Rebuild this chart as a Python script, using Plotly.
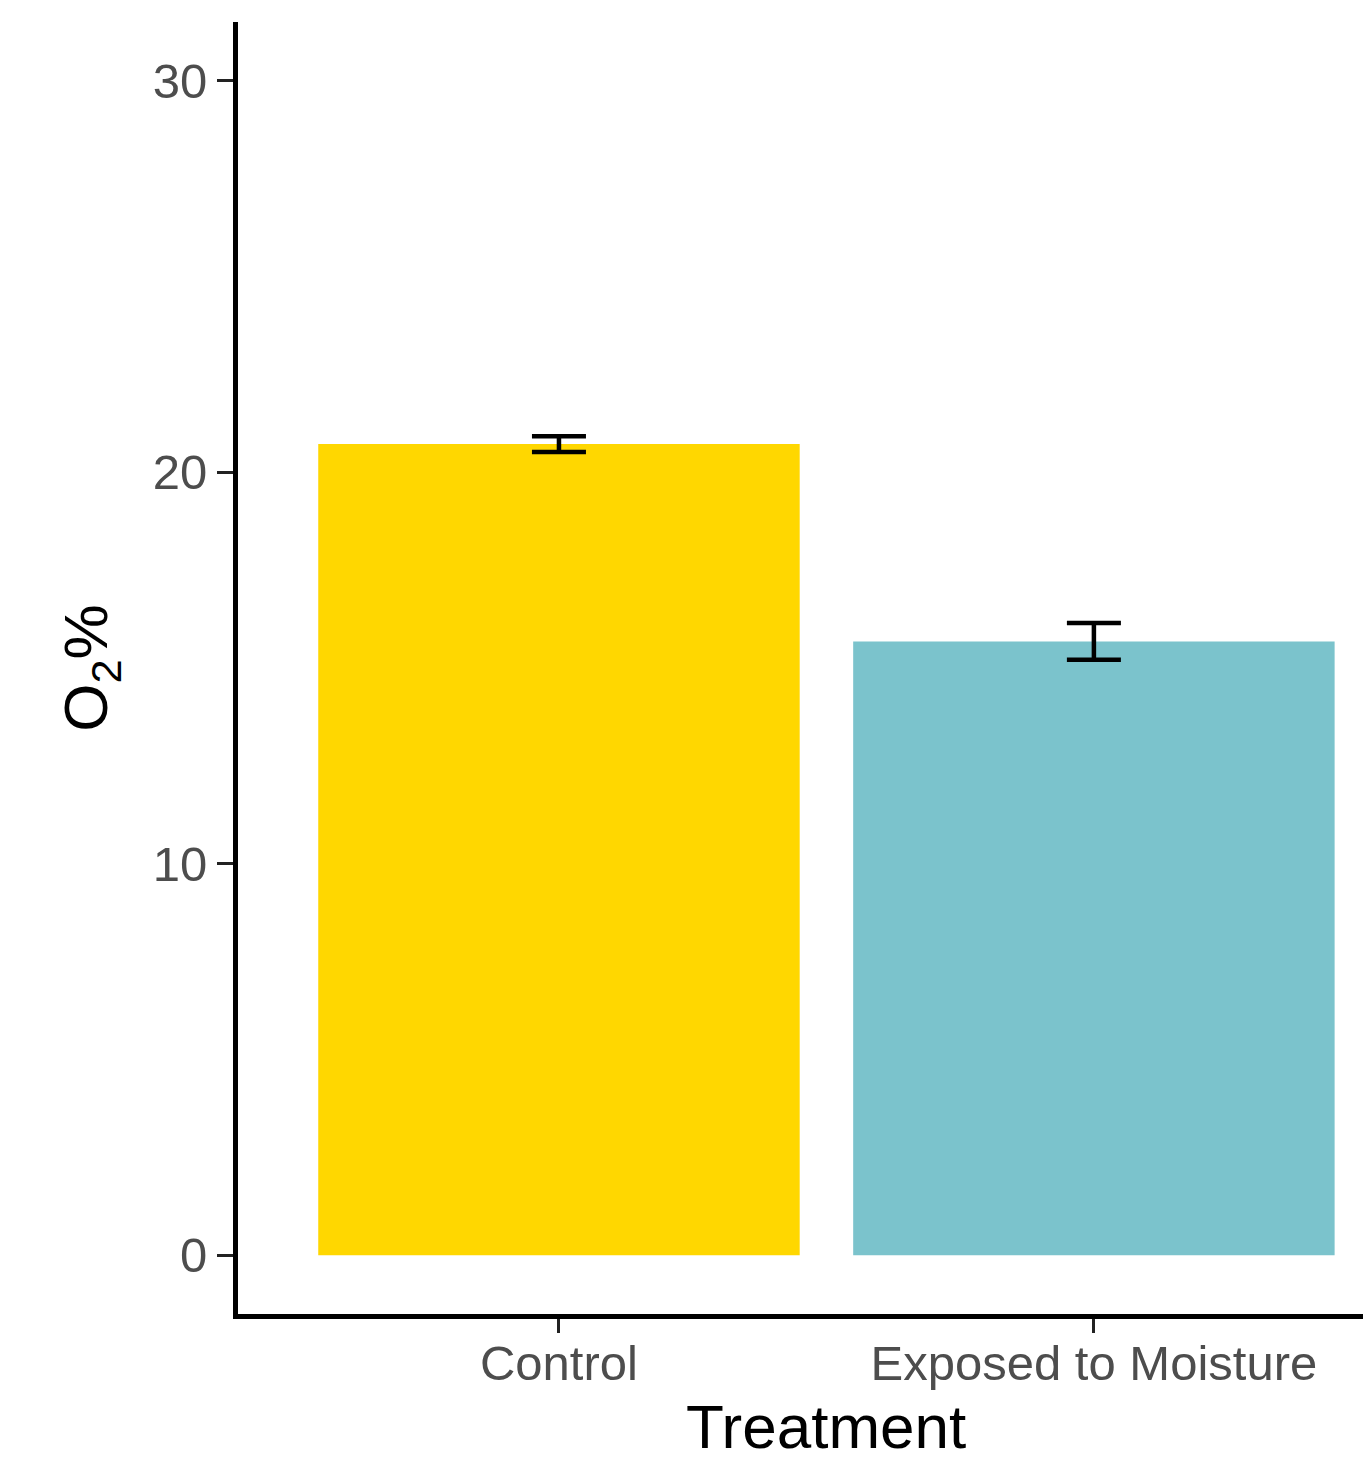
import plotly.graph_objects as go

categories = ["Control", "Exposed to Moisture"]
o2_mean = [20.72, 15.68]
o2_se = [0.2, 0.47]
bar_colors = ["#FFD700", "#7BC3CC"]
y_ticks = [0, 10, 20, 30]

fig = go.Figure()
fig.add_trace(go.Bar(
    x=categories,
    y=o2_mean,
    width=0.9,
    marker=dict(color=bar_colors, line=dict(width=0)),
    error_y=dict(type="data", array=o2_se, visible=True,
                 color="black", thickness=4.5, width=27),
    showlegend=False,
))

# page body has an 8px margin, so the figure is sized/offset to compensate
fig.update_layout(
    width=1363, height=1455,
    margin=dict(l=230, r=0, t=14, b=149),
    paper_bgcolor="white", plot_bgcolor="white",
    font=dict(family="Liberation Sans, Arial, sans-serif"),
    xaxis=dict(
        range=[-0.6, 1.518],
        showline=True, linecolor="black", linewidth=5,
        ticks="outside", ticklen=14, tickwidth=3, tickcolor="#222222",
        ticklabelstandoff=-12,
        tickfont=dict(size=49, color="#4D4D4D"),
        showgrid=False, zeroline=False,
    ),
    yaxis=dict(
        range=[-1.5, 31.5],
        tickvals=y_ticks,
        showline=True, linecolor="black", linewidth=5,
        ticks="outside", ticklen=16, tickwidth=3, tickcolor="#222222",
        tickfont=dict(size=49, color="#4D4D4D"),
        showgrid=False, zeroline=False,
        title=dict(text="O<sub>2</sub>%", font=dict(size=62, color="black"), standoff=26),
    ),
    annotations=[dict(
        text="Treatment", x=0.5, xref="x", y=0, yref="paper",
        xanchor="center", yanchor="middle", yshift=-112, showarrow=False,
        font=dict(size=62, color="black"),
    )],
)

fig.write_html("out.html")
